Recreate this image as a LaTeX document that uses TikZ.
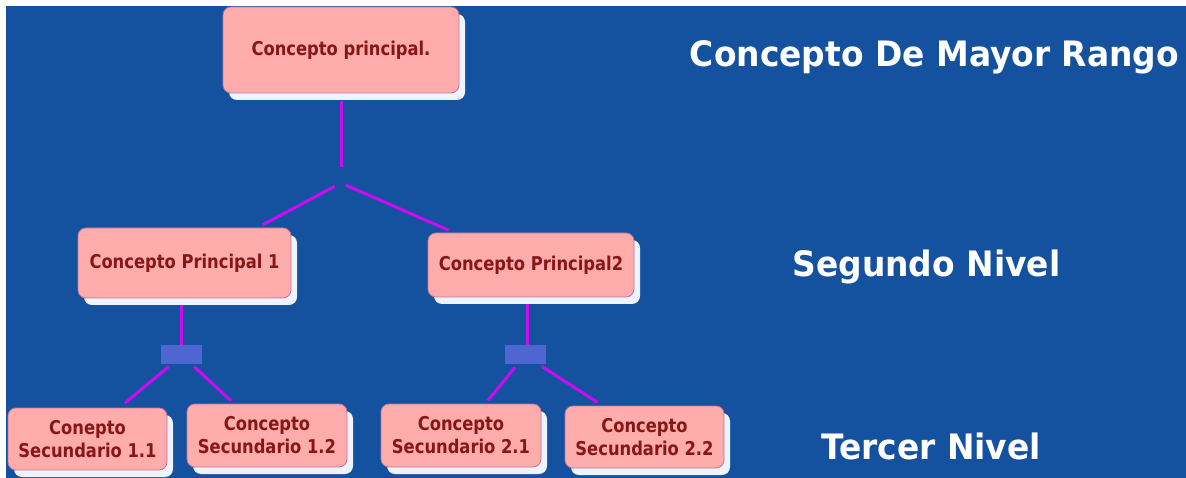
\documentclass[tikz,border=0pt]{standalone}
\usepackage{fontspec}
\usetikzlibrary{shadows,calc}
\newfontfamily\boxfont[FakeStretch=0.86]{DejaVu Sans Bold}
\newfontfamily\titlefont[FakeStretch=0.94]{DejaVu Sans Bold}
\definecolor{bgblue}{RGB}{20,82,160}
\definecolor{boxpink}{RGB}{255,172,172}
\definecolor{boxedge}{RGB}{190,120,150}
\definecolor{txtred}{RGB}{135,22,22}
\definecolor{shadowc}{RGB}{238,244,255}
\definecolor{linkc}{RGB}{206,10,240}
\definecolor{junc}{RGB}{78,102,210}
\tikzset{
  cbox/.style={draw=boxedge, line width=0.8pt, fill=boxpink, rounded corners=8pt,
    text=txtred, font=\boxfont\fontsize{19}{23}\selectfont, align=center, inner sep=0pt,
    drop shadow={shadow xshift=6pt, shadow yshift=-7pt, fill=shadowc, opacity=1}},
  jbox/.style={fill=junc, draw=none, minimum width=41pt, minimum height=19pt, inner sep=0pt},
  conn/.style={draw=linkc, line width=3pt},
  title/.style={text=white, font=\titlefont\fontsize{35}{40}\selectfont, anchor=base, inner sep=0pt}
}
\begin{document}
\begin{tikzpicture}[x=1pt,y=-1pt]
\fill[white] (0,0) rectangle (1186,478);
\useasboundingbox (0,0) rectangle (1186,478);
\fill[bgblue] (6,6) rectangle (1186,478);

\node[cbox, minimum width=236pt, minimum height=86pt] (top) at (341,50) {Concepto principal.};
\node[cbox, minimum width=213pt, minimum height=70pt] (cp1) at (184.5,263) {Concepto Principal 1};
\node[cbox, minimum width=206pt, minimum height=64pt] (cp2) at (531,265) {Concepto Principal2};
\node[cbox, minimum width=159pt, minimum height=62pt] (s11) at (87.5,439) {Conepto\\Secundario 1.1};
\node[cbox, minimum width=160pt, minimum height=63pt] (s12) at (267,435.5) {Concepto\\Secundario 1.2};
\node[cbox, minimum width=160pt, minimum height=63pt] (s21) at (461,435.5) {Concepto\\Secundario 2.1};
\node[cbox, minimum width=159pt, minimum height=62pt] (s22) at (644.5,437) {Concepto\\Secundario 2.2};

\node[jbox] (j1) at (181.5,354.5) {};
\node[jbox] (j2) at (525.5,354.5) {};
\coordinate (jt) at (341,183);

\draw[conn, shorten <=8pt, shorten >=16pt] (top.south) -- (jt);
\draw[conn, shorten <=7pt, shorten >=6pt] (jt) -- ([xshift=73pt]cp1.north);
\draw[conn, shorten <=5pt, shorten >=6pt] (jt) -- ([xshift=-77pt]cp2.north);

\draw[conn, shorten <=7pt] (cp1.south -| j1.north) -- (j1.north);
\draw[conn, shorten <=7pt] ([xshift=1.5pt]cp2.south -| j2.north) -- ([xshift=1.5pt]j2.north);

\draw[conn, shorten <=4pt, shorten >=7pt] ([xshift=-10pt]j1.south) -- ([xshift=32pt]s11.north);
\draw[conn, shorten <=4pt, shorten >=4pt] ([xshift=10pt]j1.south) -- ([xshift=-33pt]s12.north);
\draw[conn, shorten <=4pt, shorten >=4pt] ([xshift=-8pt]j2.south) -- ([xshift=24.5pt]s21.north);
\draw[conn, shorten <=4pt, shorten >=6pt] ([xshift=13pt]j2.south) -- ([xshift=-42pt]s22.north);

\node[title] (t1) at (934.5,67) {Concepto De Mayor Rango};
\node[title] (t2) at (926.5,277) {Segundo Nivel};
\node[title] (t3) at (931,459) {Tercer Nivel};
\end{tikzpicture}
\end{document}
